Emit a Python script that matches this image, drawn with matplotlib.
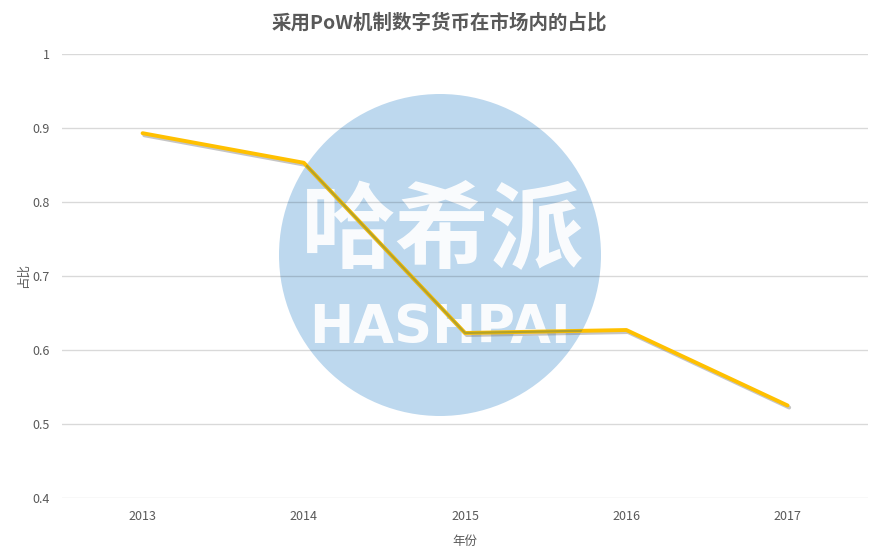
import numpy as np
import matplotlib.pyplot as plt
import matplotlib.patheffects as pe
from matplotlib.patches import Ellipse
from matplotlib.path import Path
from matplotlib.transforms import IdentityTransform

plt.rcParams['font.family'] = ['Noto Sans CJK SC', 'DejaVu Sans']

years = ['2013', '2014', '2015', '2016', '2017']
share = [0.893, 0.853, 0.623, 0.627, 0.525]
yticks = [0.4, 0.5, 0.6, 0.7, 0.8, 0.9, 1]
ytick_labels = ['0.4', '0.5', '0.6', '0.7', '0.8', '0.9', '1']

grey = '#595959'

fig = plt.figure(figsize=(8.84, 5.57), dpi=100)

# watermark sits under the (transparent) axes
fig.patches.append(Ellipse((440 / 884, 1 - 255 / 557), 322 / 884, 322 / 557,
                           transform=fig.transFigure, facecolor='#bdd8ee',
                           edgecolor='none', zorder=0.5))
fig.text(443 / 884, 1 - 232 / 557, '哈希派', ha='center', va='center', fontsize=68,
         fontweight='bold', color='white', alpha=0.92, zorder=0.6)
fig.text(440 / 884, 1 - 328 / 557, 'HASHPAI', ha='center', va='center', fontsize=38,
         fontweight='bold', family='DejaVu Sans', color='white', alpha=0.92, zorder=0.6)

ax = fig.add_axes([0.0701, 0.106, 0.912, 0.797])
ax.set_zorder(2)
ax.patch.set_visible(False)

x = np.arange(len(years))
ax.set_xlim(-0.5, len(years) - 0.5)
ax.set_ylim(0.4, 1.0)

# faint black grid so it shows darker over the watermark
for yv in yticks:
    ax.axhline(yv, color='black', alpha=0.15, lw=1, zorder=1)

ax.plot(x, share, color='#FFC000', lw=2.8, solid_capstyle='round', zorder=3,
        path_effects=[pe.SimpleLineShadow(offset=(1.2, -1.5), shadow_color='#7f7f7f', alpha=0.45),
                      pe.Normal()])
inner, = ax.plot(x, share, color='#b3a22a', lw=1.6, zorder=3.1)
inner.set_clip_path(Path.circle((440, 557 - 255), 161), IdentityTransform())

ax.set_xticks(x)
ax.set_xticklabels(years)
ax.set_yticks(yticks)
ax.set_yticklabels(ytick_labels)
ax.tick_params(length=0, labelsize=9, colors=grey, pad=9)
for s in ax.spines.values():
    s.set_visible(False)

ax.set_xlabel('年份', fontsize=9, color=grey, labelpad=8)
ax.set_ylabel('占比', fontsize=9, color=grey, labelpad=2)
fig.text(0.497, 0.96, '采用PoW机制数字货币在市场内的占比', ha='center', va='center',
         fontsize=14, fontweight='bold', color=grey)

fig.savefig('out.png', dpi=100)
